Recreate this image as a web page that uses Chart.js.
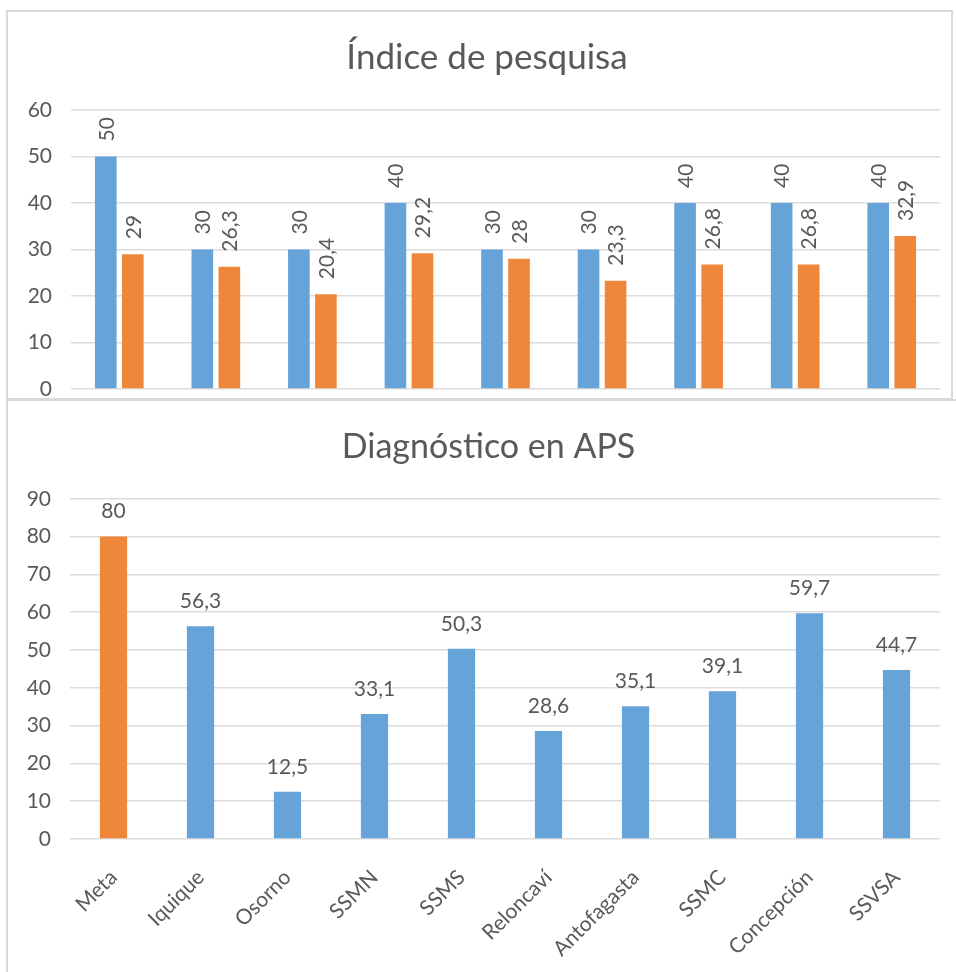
<!DOCTYPE html>
<html>
<head>
<meta charset="utf-8">
<script src="https://cdn.jsdelivr.net/npm/chart.js@4.4.1/dist/chart.umd.min.js"></script>
<style>
  html, body { margin: 0; padding: 0; background: #ffffff; width: 956px; height: 972px; overflow: hidden; position: relative; }
  .panel { position: absolute; box-sizing: border-box; border: 2px solid #d9d9d9; background: #fff; }
  canvas { position: absolute; }
</style>
</head>
<body>
<div class="panel" style="left:6px; top:10px; width:947px; height:390px;"></div>
<div class="panel" style="left:6px; top:399px; width:970px; height:620px;"></div>
<canvas id="bottom" width="977" height="572" style="left:0; top:400px;"></canvas>
<canvas id="top" width="974" height="430" style="left:0; top:0;"></canvas>
<script>
// ---------- data ----------
const topTitle = 'Índice de pesquisa';
const topCategories = ['Iquique', 'Osorno', 'SSMN', 'SSMS', 'Reloncaví', 'Antofagasta', 'SSMC', 'Concepción', 'SSVSA'];
const topSeriesA = [50, 30, 30, 40, 30, 30, 40, 40, 40];
const topSeriesB = [29, 26.3, 20.4, 29.2, 28, 23.3, 26.8, 26.8, 32.9];
const topTicks = [0, 10, 20, 30, 40, 50, 60];

const bottomTitle = 'Diagnóstico en APS';
const bottomCategories = ['Meta', 'Iquique', 'Osorno', 'SSMN', 'SSMS', 'Reloncaví', 'Antofagasta', 'SSMC', 'Concepción', 'SSVSA'];
const bottomValues = [80, 56.3, 12.5, 33.1, 50.3, 28.6, 35.1, 39.1, 59.7, 44.7];
const bottomTicks = [0, 10, 20, 30, 40, 50, 60, 70, 80, 90];

// ---------- styles ----------
const BLUE = '#66a3d9';
const ORANGE = '#ef873b';
const TEXT = '#595959';
const GRID = '#dcdcdc';
const FONT = 'Lato';

const fmt = v => String(v).replace('.', ',');

const valueLabels = {
  id: 'valueLabels',
  afterDatasetsDraw(chart, args, opts) {
    const ctx = chart.ctx;
    ctx.save();
    ctx.font = opts.size + 'px ' + FONT;
    ctx.fillStyle = TEXT;
    chart.data.datasets.forEach((ds, i) => {
      const meta = chart.getDatasetMeta(i);
      meta.data.forEach((bar, j) => {
        const txt = fmt(ds.data[j]);
        if (opts.rotate) {
          ctx.save();
          ctx.translate(bar.x + 1, bar.y - opts.offset);
          ctx.rotate(-Math.PI / 2);
          ctx.textAlign = 'left';
          ctx.textBaseline = 'middle';
          ctx.fillText(txt, 0, 0);
          ctx.restore();
        } else {
          ctx.textAlign = 'center';
          ctx.textBaseline = 'middle';
          ctx.fillText(txt, bar.x, bar.y - opts.offset);
        }
      });
    });
    ctx.restore();
  }
};

Chart.defaults.font.family = FONT;
Chart.defaults.color = TEXT;

// invisible right-hand spacer axis so that the title centres like the original
const spacer = w => ({
  position: 'right', display: true,
  afterFit: s => { s.width = w; },
  border: { display: false },
  grid: { display: false, drawTicks: false },
  ticks: { display: false }
});

new Chart(document.getElementById('top'), {
  type: 'bar',
  data: {
    labels: topCategories,
    datasets: [
      { data: topSeriesA, backgroundColor: BLUE, categoryPercentage: 0.56, barPercentage: 0.8 },
      { data: topSeriesB, backgroundColor: ORANGE, categoryPercentage: 0.56, barPercentage: 0.8 }
    ]
  },
  options: {
    responsive: false,
    animation: false,
    layout: { padding: 0 },
    plugins: {
      legend: { display: false },
      tooltip: { enabled: false },
      title: {
        display: true, text: topTitle, color: TEXT,
        font: { family: FONT, size: 35, weight: 'normal', lineHeight: 1.2 },
        padding: { top: 37, bottom: 31 }
      },
      valueLabels: { rotate: true, offset: 15, size: 21 }
    },
    scales: {
      x: {
        display: true,
        afterFit: s => { s.height = 41; },
        border: { display: false },
        grid: { display: false, drawTicks: false },
        ticks: { display: false }
      },
      y: {
        min: 0, max: 60,
        afterBuildTicks: s => { s.ticks = topTicks.map(v => ({ value: v })); },
        afterFit: s => { s.width = 71; },
        border: { display: false },
        grid: { color: GRID, lineWidth: 1.5, drawTicks: false },
        ticks: { padding: 19, color: TEXT, font: { family: FONT, size: 21 } }
      },
      yr: spacer(34)
    }
  },
  plugins: [valueLabels]
});

new Chart(document.getElementById('bottom'), {
  type: 'bar',
  data: {
    labels: bottomCategories,
    datasets: [
      {
        data: bottomValues,
        backgroundColor: bottomCategories.map(c => c === 'Meta' ? ORANGE : BLUE),
        categoryPercentage: 1, barPercentage: 0.313
      }
    ]
  },
  options: {
    responsive: false,
    animation: false,
    layout: { padding: 0 },
    plugins: {
      legend: { display: false },
      tooltip: { enabled: false },
      title: {
        display: true, text: bottomTitle, color: TEXT,
        font: { family: FONT, size: 34, weight: 'normal', lineHeight: 1.2 },
        padding: { top: 27, bottom: 31 }
      },
      valueLabels: { rotate: false, offset: 25, size: 21 }
    },
    scales: {
      x: {
        afterFit: s => { s.height = 133; },
        border: { display: false },
        grid: { display: false, drawTicks: false },
        ticks: { minRotation: 45, maxRotation: 45, padding: 26, color: TEXT, font: { family: FONT, size: 21 } }
      },
      y: {
        min: 0, max: 90,
        afterBuildTicks: s => { s.ticks = bottomTicks.map(v => ({ value: v })); },
        afterFit: s => { s.width = 70; },
        border: { display: false },
        grid: { color: GRID, lineWidth: 1.5, drawTicks: false },
        ticks: { padding: 19, color: TEXT, font: { family: FONT, size: 21 } }
      },
      yr: spacer(37)
    }
  },
  plugins: [valueLabels]
});
</script>
</body>
</html>
